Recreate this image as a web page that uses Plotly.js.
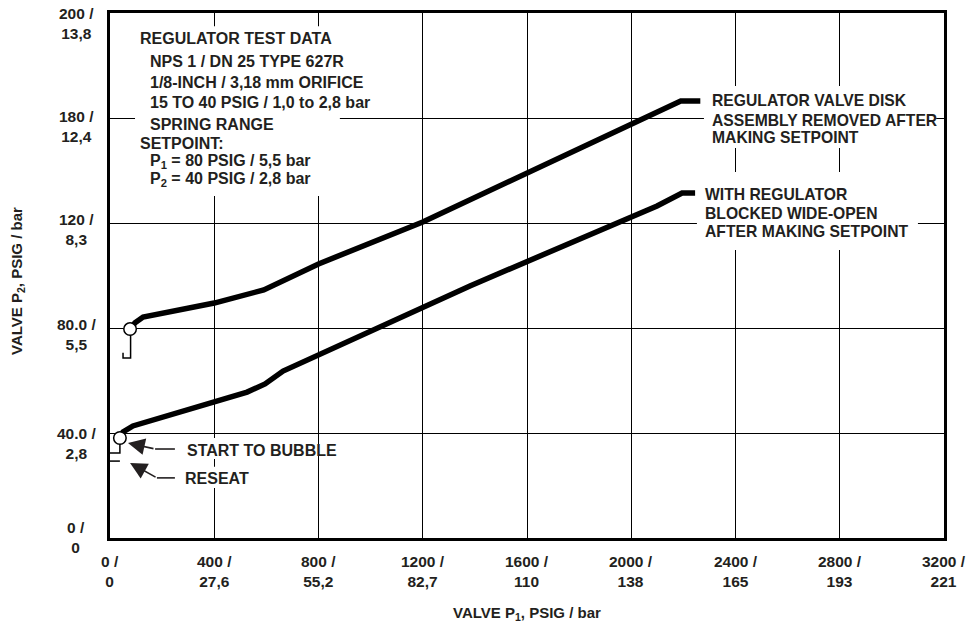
<!DOCTYPE html>
<html>
<head>
<meta charset="utf-8">
<script src="https://cdn.plot.ly/plotly-3.0.1.min.js"></script>
<style>html,body{margin:0;padding:0;background:#fff;}#chart{width:979px;height:630px;}</style>
</head>
<body>
<div id="chart"></div>
<script>
// ---- data ----
const tickX = [0, 400, 800, 1200, 1600, 2000, 2400, 2800, 3200];
const tickXText = ['0 /<br>0', '400 /<br>27,6', '800 /<br>55,2', '1200 /<br>82,7', '1600 /<br>110',
  '2000 /<br>138', '2400 /<br>165', '2800 /<br>193', '3200 /<br>221'];
const tickY = [0, 40, 80, 120, 160, 200];
const tickYText = ['0 /<br>0', '40.0 /<br>2,8', '80.0 /<br>5,5', '120 /<br>8,3', '180 /<br>12,4', '200 /<br>13,8'];

// disk assembly removed (upper curve)
const upperP1 = [77, 96, 127, 180, 270, 400, 590, 800, 1200, 1600, 2190, 2265];
const upperP2 = [79.6, 82, 84.2, 85.3, 87, 89.5, 94.5, 104.4, 120.4, 139, 166.5, 166.5];
// blocked wide-open (lower curve)
const lowerP1 = [38, 50, 88, 165, 269, 395, 526, 595, 625, 664, 1381, 2099, 2195, 2245];
const lowerP2 = [38.1, 40.4, 42.7, 45, 48, 51.8, 55.6, 58.7, 60.6, 63.6, 96, 126.5, 131.4, 131.4];
// start-to-bubble points
const bubbleP1 = [77, 38];
const bubbleP2 = [79.6, 38.1];
// reseat markers
const reseatUpperP1 = [79, 79, 50, 50];
const reseatUpperP2 = [79.6, 68.6, 68.6, 70.6];
const reseatLowerP1 = [38, 38, 0, null, 0, 38];
const reseatLowerP2 = [38.1, 32.4, 32.4, null, 29.3, 29.3];

const infoLines = [
  'REGULATOR TEST DATA',
  'NPS 1 / DN 25 TYPE 627R',
  '1/8-INCH / 3,18 mm ORIFICE',
  '15 TO 40 PSIG / 1,0 to 2,8 bar',
  'SPRING RANGE',
  'SETPOINT:',
  'P<sub>1</sub> = 80 PSIG / 5,5 bar',
  'P<sub>2</sub> = 40 PSIG / 2,8 bar'
];
const upperLabelLines = ['REGULATOR VALVE DISK', 'ASSEMBLY REMOVED AFTER', 'MAKING SETPOINT'];
const lowerLabelLines = ['WITH REGULATOR', 'BLOCKED WIDE-OPEN', 'AFTER MAKING SETPOINT'];

// ---- styling / layout ----
const FAM = 'Liberation Sans, Arial, Helvetica, sans-serif';
const TXT = '#231f20';
const f = (s) => ({family: FAM, size: s, color: TXT});
const b = (t) => '<b>' + t + '</b>';

const traces = [
  {x: upperP1, y: upperP2, mode: 'lines', line: {color: '#000', width: 5.5}, hoverinfo: 'skip'},
  {x: lowerP1, y: lowerP2, mode: 'lines', line: {color: '#000', width: 5.5}, hoverinfo: 'skip'},
  {x: reseatUpperP1, y: reseatUpperP2, mode: 'lines', line: {color: '#000', width: 1.5}, hoverinfo: 'skip'},
  {x: reseatLowerP1, y: reseatLowerP2, mode: 'lines', line: {color: '#000', width: 1.5}, connectgaps: false, hoverinfo: 'skip'},
  {x: bubbleP1, y: bubbleP2, mode: 'markers', marker: {symbol: 'circle', size: 12.5, color: '#fff', line: {color: '#000', width: 1.5}}, hoverinfo: 'skip'}
];

const annotations = [];
// x tick labels
tickX.forEach((v, i) => annotations.push({
  x: v, xref: 'x', y: 0, yref: 'paper', yanchor: 'top', xanchor: 'center', yshift: -13,
  text: b(tickXText[i]), showarrow: false, align: 'center', font: f(15.5)
}));
// y tick labels (first line offset from the tick, px)
const yLabShift = [21, 10, 14, 14, 12, 10];
tickY.forEach((v, i) => annotations.push({
  x: -34 / 834, xref: 'paper', y: v, yref: 'y', yanchor: 'top', xanchor: 'center', yshift: yLabShift[i],
  text: b(tickYText[i]), showarrow: false, align: 'center', font: f(15.5)
}));
// axis titles
annotations.push({x: 0.5, xref: 'paper', y: -75 / 525, yref: 'paper', xanchor: 'center', yanchor: 'middle',
  text: b('VALVE P<sub>1</sub>, PSIG / bar'), showarrow: false, font: f(15)});
annotations.push({x: -93 / 834, xref: 'paper', y: (538 - 281) / 525, yref: 'paper', xanchor: 'center', yanchor: 'middle',
  textangle: -90, text: b('VALVE P<sub>2</sub>, PSIG / bar'), showarrow: false, font: f(15)});
// info box lines
const infoX = [107, 146, 146, 146, 146, 107, 146, 146];
const infoY = [190.4, 181.7, 173.6, 165.8, 157.7, 150.1, 143.6, 136.4];
infoLines.forEach((t, i) => annotations.push({
  x: infoX[i], y: infoY[i], xref: 'x', yref: 'y', xanchor: 'left', yanchor: 'middle',
  text: b(t), showarrow: false, align: 'left', font: f(16)
}));
// curve labels
const upLabY = [166.6, 159.2, 152.6];
upperLabelLines.forEach((t, i) => annotations.push({x: 2302, y: upLabY[i], xref: 'x', yref: 'y',
  xanchor: 'left', yanchor: 'middle', text: b(t), showarrow: false, font: f(15.7)}));
const loLabY = [131.0, 123.8, 116.6];
lowerLabelLines.forEach((t, i) => annotations.push({x: 2275, y: loLabY[i], xref: 'x', yref: 'y',
  xanchor: 'left', yanchor: 'middle', text: b(t), showarrow: false, font: f(15.7)}));
// start to bubble / reseat
annotations.push({x: 288, y: 33.5, xref: 'x', yref: 'y', xanchor: 'left', yanchor: 'middle',
  text: b('START TO BUBBLE'), showarrow: false, font: f(16)});
annotations.push({x: 280, y: 22.7, xref: 'x', yref: 'y', xanchor: 'left', yanchor: 'middle',
  text: b('RESEAT'), showarrow: false, font: f(16)});
annotations.push({x: 69, y: 36.2, xref: 'x', yref: 'y', ax: 27, ay: 6, text: '', showarrow: true,
  arrowhead: 2, arrowsize: 2.1, arrowwidth: 1.6, arrowcolor: TXT, standoff: 0});
annotations.push({x: 77, y: 28.6, xref: 'x', yref: 'y', ax: 27, ay: 15, text: '', showarrow: true,
  arrowhead: 2, arrowsize: 2.1, arrowwidth: 1.6, arrowcolor: TXT, standoff: 0});

const white = {type: 'rect', xref: 'x', yref: 'y', fillcolor: '#fff', line: {width: 0}, layer: 'between'};
const shapes = [
  Object.assign({x0: 96, x1: 882, y0: 130.3, y1: 195}, white),
  Object.assign({x0: 2279, x1: 3170, y0: 148.6, y1: 172.2}, white),
  Object.assign({x0: 2252, x1: 3100, y0: 109.7, y1: 139.4}, white),
  Object.assign({x0: 261, x1: 729, y0: 30.1, y1: 38.1}, white),
  Object.assign({x0: 261, x1: 575, y0: 19.05, y1: 27.1}, white),
  {type: 'line', xref: 'x', yref: 'y', x0: 173, x1: 249, y0: 33.9, y1: 33.9, line: {color: TXT, width: 1.6}},
  {type: 'line', xref: 'x', yref: 'y', x0: 180, x1: 249, y0: 22.9, y1: 22.9, line: {color: TXT, width: 1.6}}
];

const axisBase = {
  showline: true, linecolor: '#000', linewidth: 3, mirror: true,
  showgrid: true, gridcolor: '#000', gridwidth: 1,
  zeroline: false, ticks: '', showticklabels: false, tickmode: 'array', fixedrange: true
};

const layout = {
  width: 979, height: 630,
  margin: {l: 110, r: 35, t: 13, b: 92},
  paper_bgcolor: '#fff', plot_bgcolor: '#fff',
  showlegend: false,
  font: {family: FAM, color: TXT},
  xaxis: Object.assign({}, axisBase, {range: [0, 3200], tickvals: tickX}),
  yaxis: Object.assign({}, axisBase, {range: [0, 200], tickvals: tickY}),
  annotations: annotations,
  shapes: shapes
};

Plotly.newPlot('chart', traces, layout, {displayModeBar: false, staticPlot: true});
</script>
</body>
</html>
